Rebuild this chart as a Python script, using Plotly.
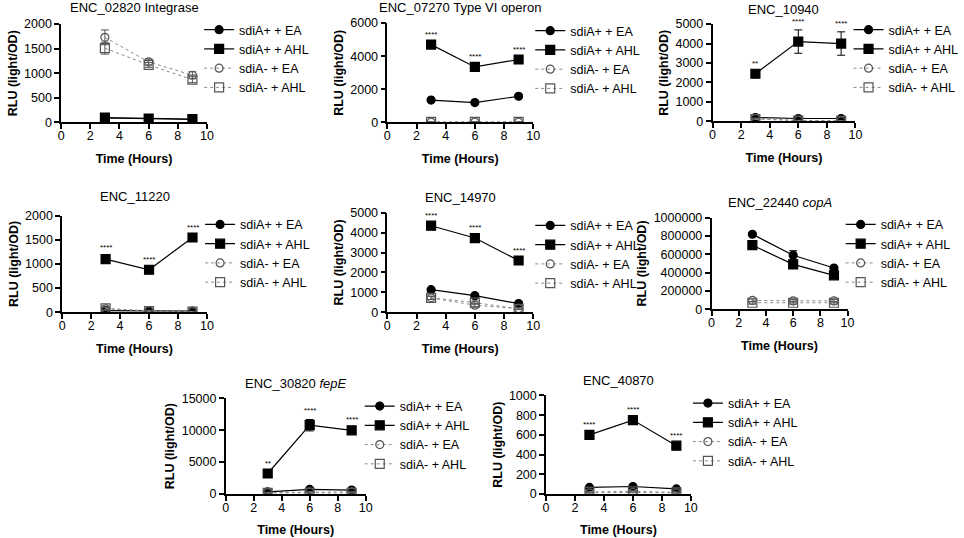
import plotly.graph_objects as go

hours = [3, 6, 9]

titles = ["ENC_02820 Integrase", "ENC_07270 Type VI operon", "ENC_10940",
          "ENC_11220", "ENC_14970", "ENC_22440 <i>copA</i>",
          "ENC_30820 <i>fepE</i>", "ENC_40870"]
y_max = [2000, 6000, 5000, 2000, 5000, 1000000, 15000, 1000]
y_dtick = [500, 2000, 1000, 500, 1000, 200000, 5000, 200]

series_names = ["sdiA+ + EA", "sdiA+ + AHL", "sdiA- + EA", "sdiA- + AHL"]

# mean RLU per panel (3, 6, 9 h)
plus_ea = [[90, 70, 60], [1350, 1200, 1580], [200, 150, 150], [30, 20, 20],
           [1130, 830, 430], [820000, 590000, 450000], [300, 700, 600], [65, 75, 50]]
plus_ahl = [[100, 80, 70], [4700, 3350, 3800], [2450, 4100, 4000], [1100, 880, 1550],
            [4350, 3730, 2600], [700000, 490000, 370000], [3200, 10800, 10000], [600, 750, 490]]
minus_ea = [[1730, 1230, 960], [20, 20, 20], [150, 50, 30], [70, 30, 10],
            [720, 350, 180], [95000, 90000, 90000], [200, 300, 300], [10, 15, 10]]
minus_ahl = [[1510, 1170, 870], [30, 30, 30], [120, 40, 30], [80, 20, 10],
             [720, 480, 170], [70000, 70000, 70000], [150, 150, 150], [20, 25, 15]]

# error bars (SD)
plus_ea_err = [[10, 10, 10], [60, 50, 60], [30, 30, 30], [10, 10, 10],
               [60, 60, 50], [15000, 50000, 15000], [100, 100, 100], [10, 10, 10]]
plus_ahl_err = [[15, 10, 10], [100, 120, 100], [100, 600, 600], [60, 30, 30],
                [100, 80, 80], [15000, 30000, 15000], [300, 900, 300], [20, 25, 20]]
minus_ea_err = [[150, 60, 70], [10, 10, 10], [20, 10, 10], [30, 10, 5],
                [80, 80, 40], [15000, 15000, 15000], [50, 50, 50], [5, 5, 5]]
minus_ahl_err = [[120, 50, 60], [10, 10, 10], [20, 10, 10], [30, 10, 5],
                 [80, 80, 40], [15000, 15000, 15000], [50, 50, 50], [5, 5, 5]]

stars = [["", "", ""], ["****", "****", "****"], ["**", "****", "****"],
         ["****", "****", "****"], ["****", "****", "****"], ["", "", ""],
         ["**", "****", "****"], ["****", "****", "****"]]

# panel boxes in pixels: left, right, top, bottom ; legend left, legend top ; title y
W, H = 964, 538
boxes = [(59, 207, 25, 123), (390, 538, 24, 123), (720, 865, 25, 122),
         (60, 207, 216, 312), (390, 538, 213, 312), (719, 857, 218, 309),
         (226, 368, 398, 493), (551, 698, 395, 493)]
leg_pos = [(199, 16), (535, 17), (858, 16), (200, 210), (535, 211), (850, 210),
           (362, 391), (695, 388)]
title_y = [8, 8, 10, 197, 198, 203, 383, 380]

# the snapshot shows the page slightly squeezed vertically; map picture px -> paper
Y_OFF, Y_SPAN = 8, 522


def py(v):
    return 1 - (v - Y_OFF) / Y_SPAN


FONT = "Liberation Sans, Arial, sans-serif"

fig = go.Figure()
styles = [
    dict(symbol="circle", size=8, color="black", line="black", dash="solid", lw=1.2),
    dict(symbol="square", size=9, color="black", line="black", dash="solid", lw=1.2),
    dict(symbol="circle-open", size=8, color="#555555", line="#8a8a8a", dash="dot", lw=1),
    dict(symbol="square-open", size=9, color="#555555", line="#8a8a8a", dash="dot", lw=1),
]

layout = {}
annotations = []
for i in range(8):
    k = i + 1
    xa = "x" if k == 1 else f"x{k}"
    ya = "y" if k == 1 else f"y{k}"
    lg = "legend" if k == 1 else f"legend{k}"
    data = [plus_ea[i], plus_ahl[i], minus_ea[i], minus_ahl[i]]
    errs = [plus_ea_err[i], plus_ahl_err[i], minus_ea_err[i], minus_ahl_err[i]]
    for j in range(4):
        s = styles[j]
        fig.add_trace(go.Scatter(
            x=hours, y=data[j], name=series_names[j], mode="lines+markers",
            xaxis=xa, yaxis=ya, legend=lg,
            line=dict(color=s["line"], width=s["lw"], dash=s["dash"]),
            marker=dict(symbol=s["symbol"], size=s["size"], color=s["color"],
                        line=dict(color=s["color"], width=1.2)),
            error_y=dict(type="data", array=errs[j], color=s["color"],
                         thickness=1, width=4),
        ))

    l, r, t, b = boxes[i]
    layout[f"xaxis{k}"] = dict(
        domain=[l / W, r / W], anchor=ya, range=[0, 10], dtick=2,
        showline=True, linecolor="black", linewidth=1.5, ticks="outside",
        ticklen=5, tickwidth=1.5, tickcolor="black", showgrid=False, zeroline=False,
        ticklabelstandoff=-4,
        tickfont=dict(family=FONT, size=12.5, color="black"),
        title=dict(text="<b>Time (Hours)</b>", standoff=12,
                   font=dict(family=FONT, size=12.5, color="black")),
    )
    layout[f"yaxis{k}"] = dict(
        domain=[py(b), py(t)], anchor=xa, range=[0, y_max[i]],
        dtick=y_dtick[i], tickformat="d", showline=True, linecolor="black",
        linewidth=1.5, ticks="outside", ticklen=5, tickwidth=1.5, tickcolor="black",
        showgrid=False, zeroline=False,
        tickfont=dict(family=FONT, size=12.5, color="black"),
        title=dict(text="<b>RLU (light/OD)</b>", standoff=4,
                   font=dict(family=FONT, size=12.5, color="black")),
    )
    lx, ly = leg_pos[i]
    layout[lg] = dict(x=lx / W, y=py(ly), xanchor="left", yanchor="top",
                      bgcolor="rgba(0,0,0,0)", itemwidth=30,
                      font=dict(family=FONT, size=12.5, color="black"))
    annotations.append(dict(
        text=titles[i], xref="paper", yref="paper", x=(l + r) / 2 / W,
        y=py(title_y[i]), xanchor="center", yanchor="middle", showarrow=False,
        font=dict(family=FONT, size=13, color="black")))
    for h, v, e, st in zip(hours, plus_ahl[i], plus_ahl_err[i], stars[i]):
        if st:
            annotations.append(dict(
                text=st, xref=xa, yref=ya, x=h, y=v + e, xanchor="center",
                yanchor="bottom", yshift=2, showarrow=False,
                font=dict(family=FONT, size=8, color="black")))

fig.update_layout(
    width=W, height=H, margin=dict(l=0, r=0, t=0, b=0),
    plot_bgcolor="white", paper_bgcolor="white",
    annotations=annotations, **layout,
)

# pin the plot to the top-left corner of the page
pin = ("document.body.style.margin='0px';"
       "var d=document.getElementById('{plot_id}');"
       "d.style.position='fixed';d.style.top='0px';d.style.left='0px';")
fig.write_html("out.html", config={"displayModeBar": False}, post_script=pin)
